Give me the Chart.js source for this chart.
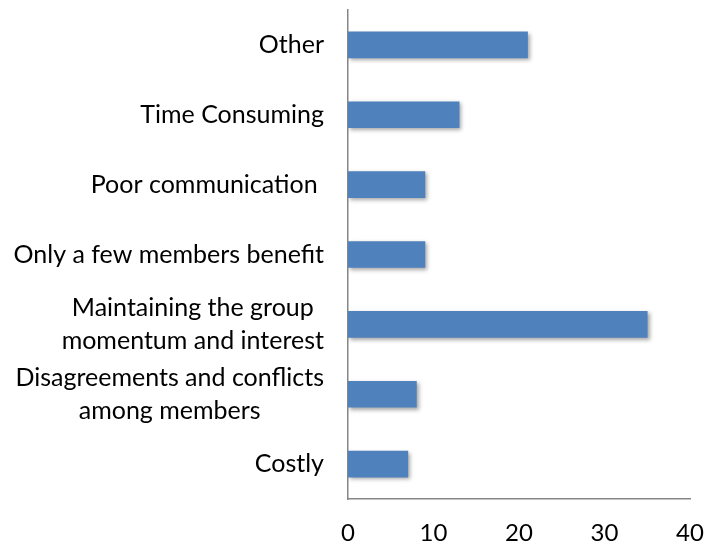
<!DOCTYPE html>
<html>
<head>
<meta charset="utf-8">
<script src="https://cdn.jsdelivr.net/npm/chart.js@4/dist/chart.umd.min.js"></script>
<style>
  html, body { margin: 0; padding: 0; background: #fff; }
  #wrap { width: 705px; height: 552px; position: relative; }
</style>
</head>
<body>
<div id="wrap"><canvas id="chart"></canvas></div>
<script>
  // categories, top to bottom (multi-line labels as arrays)
  var categories = [
    ["Other"],
    ["Time Consuming"],
    ["Poor communication "],
    ["Only a few members benefit"],
    ["Maintaining the group", "momentum and interest"],
    ["Disagreements and conflicts", "among members"],
    ["Costly"]
  ];
  var counts = [21, 13, 9, 9, 35, 8, 7];
  var xTicks = [0, 10, 20, 30, 40];

  var FONT = "Lato, 'Open Sans', sans-serif";

  // soft drop shadow under the bars
  var barShadow = {
    id: 'barShadow',
    beforeDatasetDraw: function(chart) {
      var ctx = chart.ctx;
      ctx.save();
      ctx.shadowColor = 'rgba(0,0,0,0.35)';
      ctx.shadowBlur = 4;
      ctx.shadowOffsetX = 2;
      ctx.shadowOffsetY = 2;
    },
    afterDatasetDraw: function(chart) {
      chart.ctx.restore();
    }
  };

  // category labels: multi-line blocks centred on each other, right edge fixed
  var catLabels = {
    id: 'catLabels',
    afterDraw: function(chart) {
      var ctx = chart.ctx, y = chart.scales.y;
      var right = chart.chartArea.left - 24;
      var lineH = 33;
      ctx.save();
      ctx.font = '25px ' + FONT;
      ctx.fillStyle = '#000';
      ctx.textAlign = 'center';
      ctx.textBaseline = 'middle';
      categories.forEach(function(lines, i) {
        var w = 0;
        lines.forEach(function(l) { w = Math.max(w, ctx.measureText(l).width); });
        var cx = right - w / 2;
        var cy = y.getPixelForValue(i);
        var top = cy - (lines.length - 1) * lineH / 2;
        lines.forEach(function(l, j) {
          ctx.fillText(l, cx, top + j * lineH);
        });
      });
      ctx.restore();
    }
  };

  new Chart(document.getElementById('chart'), {
    type: 'bar',
    data: {
      labels: categories,
      datasets: [{
        data: counts,
        backgroundColor: '#4F81BD',
        borderWidth: 0,
        barThickness: 26
      }]
    },
    options: {
      indexAxis: 'y',
      responsive: true,
      maintainAspectRatio: false,
      animation: false,
      layout: { padding: { top: 10, right: 15, left: 0, bottom: 0 } },
      plugins: { legend: { display: false }, tooltip: { enabled: false } },
      scales: {
        x: {
          min: 0,
          max: 40,
          afterBuildTicks: function(scale) {
            scale.ticks = xTicks.map(function(v) { return { value: v }; });
          },
          afterFit: function(scale) {
            scale.height = 53;
            scale.paddingLeft = 0;
            scale.paddingRight = 0;
          },
          grid: { display: false },
          border: { display: true, color: '#868686', width: 1.5 },
          ticks: {
            color: '#000',
            padding: 12,
            font: { family: FONT, size: 24 }
          }
        },
        y: {
          afterFit: function(scale) { scale.width = 348; },
          grid: { display: false },
          border: { display: true, color: '#868686', width: 1.5 },
          ticks: { display: false }
        }
      }
    },
    plugins: [barShadow, catLabels]
  });
</script>
</body>
</html>
